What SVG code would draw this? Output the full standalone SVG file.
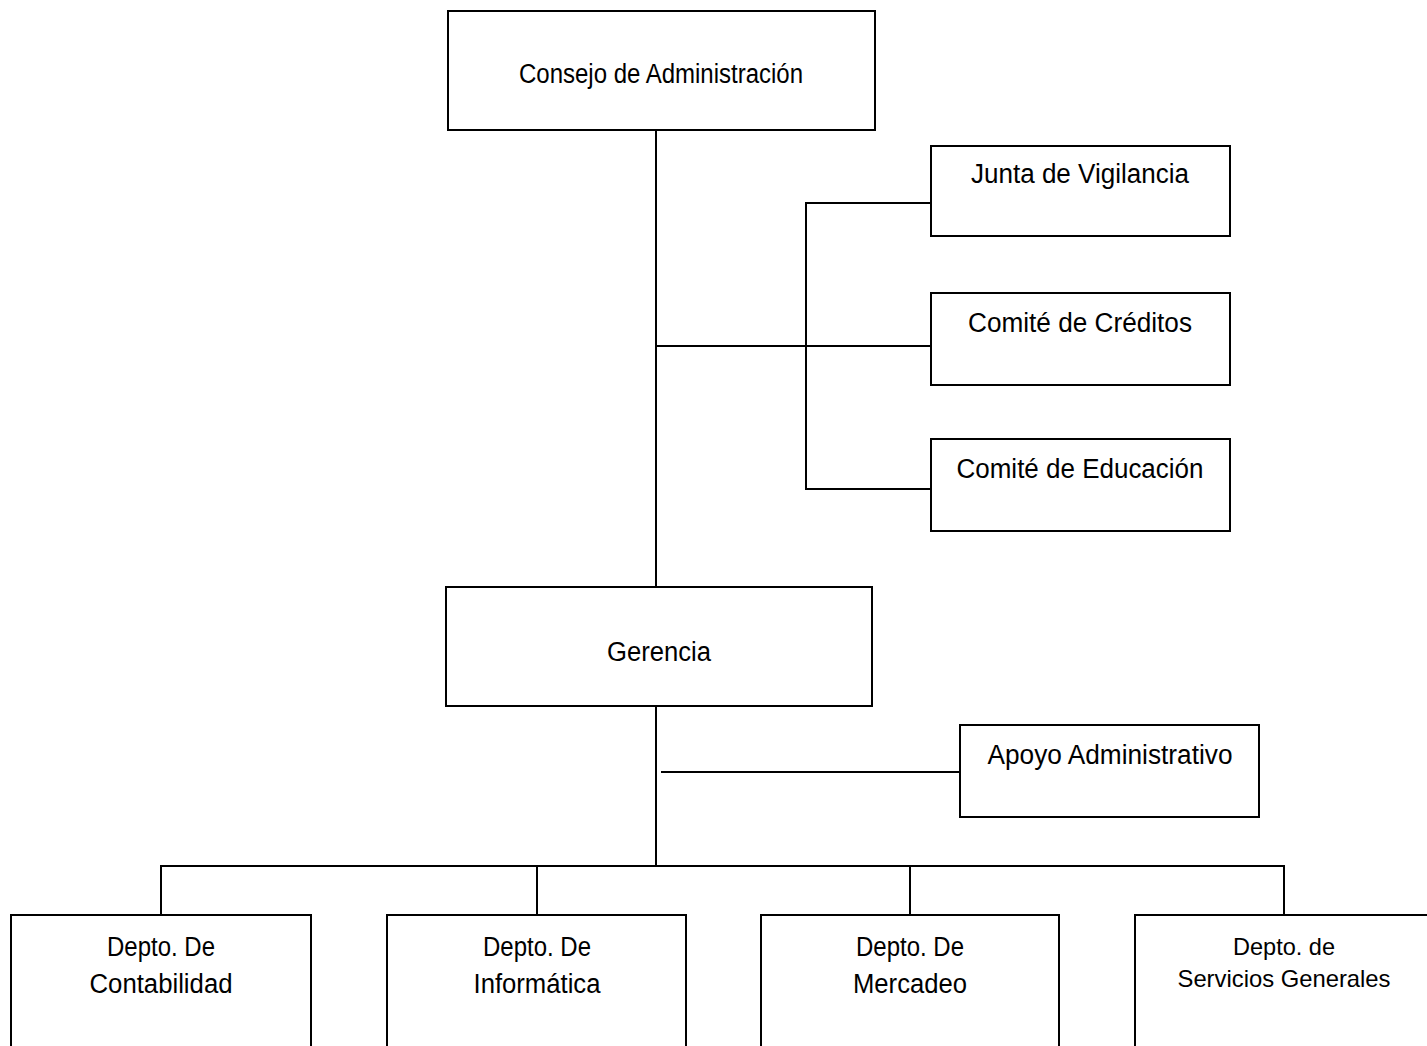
<svg xmlns="http://www.w3.org/2000/svg" width="1427" height="1046" viewBox="0 0 1427 1046">
  <style>
    .box { fill: #ffffff; stroke: #000000; stroke-width: 2; }
    .link { fill: none; stroke: #000000; stroke-width: 2; }
    .label { font-family: "Liberation Sans", Arial, sans-serif; font-size: 27px; fill: #000000; text-anchor: middle; }
    .small { font-size: 24px; }
  </style>
  <rect x="0" y="0" width="1427" height="1046" fill="#ffffff"/>

  <!-- connectors -->
  <g id="connectors">
    <line class="link" x1="656" y1="130" x2="656" y2="587"/>
    <line class="link" x1="656" y1="346" x2="931" y2="346"/>
    <polyline class="link" points="931,203 806,203 806,489 931,489"/>
    <line class="link" x1="656" y1="706" x2="656" y2="866"/>
    <line class="link" x1="661" y1="772" x2="960" y2="772"/>
    <line class="link" x1="160" y1="866" x2="1285" y2="866"/>
    <line class="link" x1="161" y1="866" x2="161" y2="915"/>
    <line class="link" x1="537" y1="866" x2="537" y2="915"/>
    <line class="link" x1="910" y1="866" x2="910" y2="915"/>
    <line class="link" x1="1284" y1="866" x2="1284" y2="915"/>
  </g>

  <g id="consejo">
    <rect class="box" x="448" y="11" width="427" height="119"/>
    <text class="label" x="661" y="83" textLength="284" lengthAdjust="spacingAndGlyphs">Consejo de Administración</text>
  </g>

  <g id="junta-vigilancia">
    <rect class="box" x="931" y="146" width="299" height="90"/>
    <text class="label" x="1080" y="183" textLength="218" lengthAdjust="spacingAndGlyphs">Junta de Vigilancia</text>
  </g>

  <g id="comite-creditos">
    <rect class="box" x="931" y="293" width="299" height="92"/>
    <text class="label" x="1080" y="332" textLength="224" lengthAdjust="spacingAndGlyphs">Comité de Créditos</text>
  </g>

  <g id="comite-educacion">
    <rect class="box" x="931" y="439" width="299" height="92"/>
    <text class="label" x="1080" y="478" textLength="247" lengthAdjust="spacingAndGlyphs">Comité de Educación</text>
  </g>

  <g id="gerencia">
    <rect class="box" x="446" y="587" width="426" height="119"/>
    <text class="label" x="659" y="661" textLength="104" lengthAdjust="spacingAndGlyphs">Gerencia</text>
  </g>

  <g id="apoyo-administrativo">
    <rect class="box" x="960" y="725" width="299" height="92"/>
    <text class="label" x="1110" y="764" textLength="245" lengthAdjust="spacingAndGlyphs">Apoyo Administrativo</text>
  </g>

  <g id="depto-contabilidad">
    <rect class="box" x="11" y="915" width="300" height="160"/>
    <text class="label" x="161" y="956" textLength="108" lengthAdjust="spacingAndGlyphs">Depto. De</text>
    <text class="label" x="161" y="993" textLength="143" lengthAdjust="spacingAndGlyphs">Contabilidad</text>
  </g>

  <g id="depto-informatica">
    <rect class="box" x="387" y="915" width="299" height="160"/>
    <text class="label" x="537" y="956" textLength="108" lengthAdjust="spacingAndGlyphs">Depto. De</text>
    <text class="label" x="537" y="993" textLength="127" lengthAdjust="spacingAndGlyphs">Informática</text>
  </g>

  <g id="depto-mercadeo">
    <rect class="box" x="761" y="915" width="298" height="160"/>
    <text class="label" x="910" y="956" textLength="108" lengthAdjust="spacingAndGlyphs">Depto. De</text>
    <text class="label" x="910" y="993" textLength="114" lengthAdjust="spacingAndGlyphs">Mercadeo</text>
  </g>

  <g id="depto-servicios">
    <rect class="box" x="1135" y="915" width="300" height="160"/>
    <text class="label small" x="1284" y="955" textLength="102" lengthAdjust="spacingAndGlyphs">Depto. de</text>
    <text class="label small" x="1284" y="987" textLength="213" lengthAdjust="spacingAndGlyphs">Servicios Generales</text>
  </g>
</svg>
